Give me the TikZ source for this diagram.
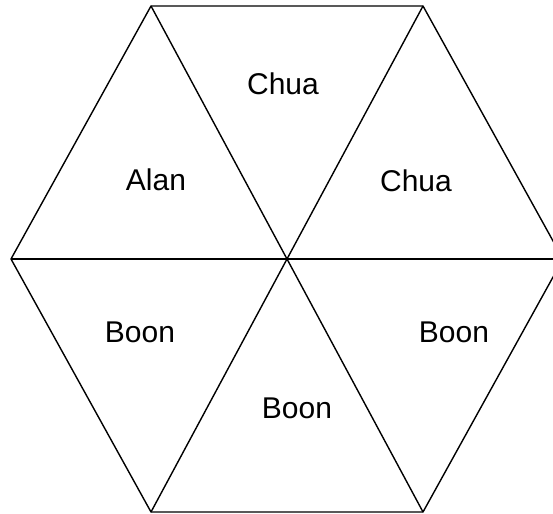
\documentclass[tikz,border=0pt]{standalone}
\usepackage{fontspec}
\setmainfont{Liberation Sans}
\begin{document}
\begin{tikzpicture}[x=1pt, y=-1pt, line join=round,
      edge/.style={draw, line width=1.4pt},
      lbl/.style={font=\fontsize{30}{36}\selectfont, inner sep=0pt}]
    \useasboundingbox (0,0) rectangle (553,513);
    \clip (0,0) rectangle (553,513);
    \coordinate (c) at (287,259);
    \coordinate (tl) at (151,6);
    \coordinate (tr) at (423,6);
    \coordinate (r) at (563,259);
    \coordinate (br) at (423,512);
    \coordinate (bl) at (151,512);
    \coordinate (l) at (11,259);
    \draw[edge] (tl) -- (tr) -- (r) -- (br) -- (bl) -- (l) -- cycle;
    \draw[edge] (tl) -- (br);
    \draw[edge] (tr) -- (bl);
    \draw[edge] (l) -- (r);
    \node[lbl] (chuatop) at (283,84) {Chua};
    \node[lbl] (alan) at (156,180) {Alan};
    \node[lbl] (chuaright) at (416,181) {Chua};
    \node[lbl] (boonleft) at (140,332) {Boon};
    \node[lbl] (boonright) at (454,332) {Boon};
    \node[lbl] (boonbottom) at (297,408) {Boon};
\end{tikzpicture}
\end{document}
